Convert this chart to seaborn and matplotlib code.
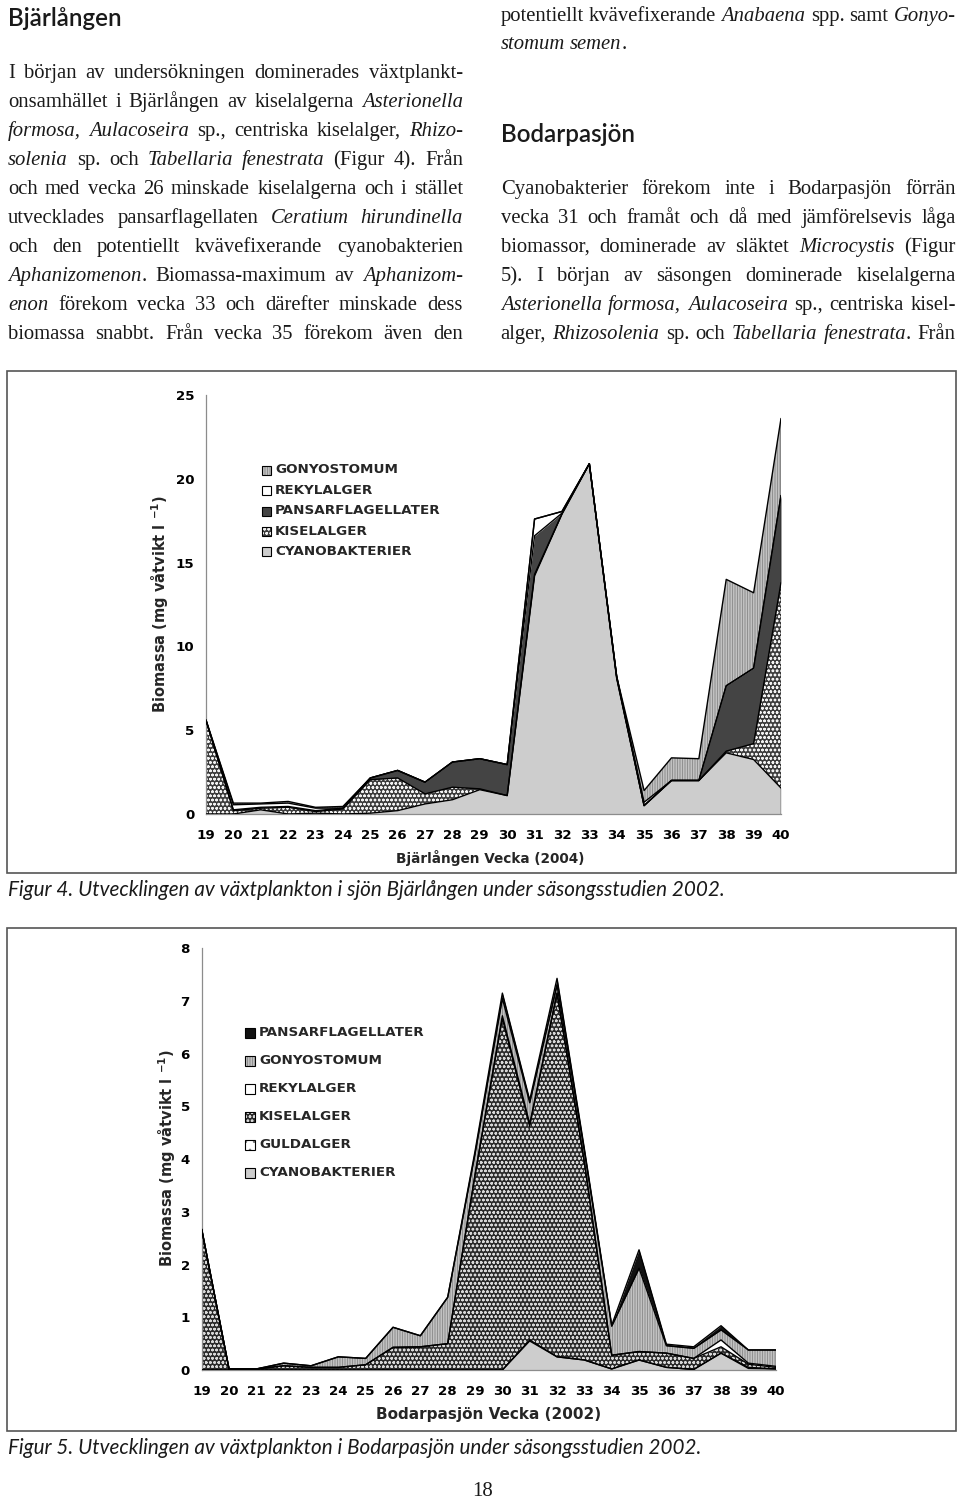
import matplotlib
matplotlib.use("Agg")
import numpy as np
import pandas as pd
import seaborn as sns
import matplotlib.pyplot as plt
from matplotlib.patches import Rectangle

# ---------------- data ----------------
weeks = list(range(19, 41))
week_labels = [str(w) for w in weeks]

# Figur 4 – Bjärlången (stack order bottom -> top)
bj_cyano  = [0, 0, 0.25, 0, 0.05, 0, 0.05, 0.2, 0.6, 0.85, 1.45, 1.1, 14.2, 17.9, 20.9, 8.1, 0.5, 2.0, 2.0, 3.65, 3.25, 1.55]
bj_kisel  = [5.6, 0.2, 0.1, 0.4, 0.1, 0.3, 2.0, 1.95, 0.6, 0.75, 0.05, 0, 0.1, 0, 0, 0, 0, 0, 0, 0.1, 0.95, 12.25]
bj_pansar = [0, 0.05, 0.05, 0.05, 0.05, 0.05, 0.1, 0.45, 0.7, 1.5, 1.8, 1.85, 2.3, 0.05, 0, 0.1, 0, 0, 0, 3.9, 4.5, 5.2]
bj_rekyl  = [0, 0.3, 0.2, 0.2, 0.15, 0, 0, 0, 0, 0, 0, 0, 1.0, 0.1, 0, 0, 0.2, 0, 0, 0, 0, 0]
bj_gony   = [0, 0.1, 0.05, 0.1, 0.05, 0.1, 0, 0, 0, 0, 0, 0, 0, 0, 0, 0, 0.7, 1.35, 1.3, 6.35, 4.5, 4.6]

# Figur 5 – Bodarpasjön (stack order bottom -> top)
bo_cyano  = [0, 0, 0, 0, 0, 0, 0, 0, 0, 0, 0, 0, 0.55, 0.25, 0.19, 0.02, 0.19, 0.05, 0.01, 0.32, 0.03, 0.02]
bo_guld   = [0, 0, 0, 0, 0, 0, 0, 0, 0, 0, 0, 0, 0.02, 0, 0, 0, 0, 0, 0, 0, 0.02, 0]
bo_kisel  = [2.67, 0.02, 0.02, 0.08, 0.05, 0.05, 0.1, 0.43, 0.44, 0.5, 3.7, 6.67, 4.05, 6.9, 3.75, 0.26, 0.16, 0.27, 0.21, 0.12, 0.06, 0.03]
bo_rekyl  = [0, 0, 0, 0, 0, 0, 0, 0, 0, 0, 0, 0.05, 0.05, 0, 0, 0, 0, 0, 0, 0.13, 0.02, 0.02]
bo_gony   = [0, 0, 0, 0.05, 0.03, 0.2, 0.12, 0.38, 0.21, 0.88, 0.4, 0.33, 0.4, 0.15, 0.2, 0.55, 1.58, 0.14, 0.19, 0.19, 0.25, 0.31]
bo_pansar = [0, 0, 0, 0, 0, 0, 0, 0, 0, 0, 0.05, 0.1, 0.05, 0.13, 0.06, 0.02, 0.35, 0.03, 0.03, 0.08, 0, 0]

bj_layers = [("CYANOBAKTERIER", bj_cyano), ("KISELALGER", bj_kisel),
             ("PANSARFLAGELLATER", bj_pansar), ("REKYLALGER", bj_rekyl),
             ("GONYOSTOMUM", bj_gony)]
bo_layers = [("CYANOBAKTERIER", bo_cyano), ("GULDALGER", bo_guld), ("KISELALGER", bo_kisel),
             ("REKYLALGER", bo_rekyl), ("GONYOSTOMUM", bo_gony), ("PANSARFLAGELLATER", bo_pansar)]

bj_legend = ["GONYOSTOMUM", "REKYLALGER", "PANSARFLAGELLATER", "KISELALGER", "CYANOBAKTERIER"]
bo_legend = ["PANSARFLAGELLATER", "GONYOSTOMUM", "REKYLALGER", "KISELALGER", "GULDALGER", "CYANOBAKTERIER"]

bj_yticks = [0, 5, 10, 15, 20, 25]
bo_yticks = [0, 1, 2, 3, 4, 5, 6, 7, 8]

ylabel = r"Biomassa (mg våtvikt l $^{\mathbf{-1}}$)"
bj_xlabel = "Bjärlången Vecka (2004)"
bo_xlabel = "Bodarpasjön Vecka (2002)"
cap4 = "Figur 4. Utvecklingen av växtplankton i sjön Bjärlången under säsongsstudien 2002."
cap5 = "Figur 5. Utvecklingen av växtplankton i Bodarpasjön under säsongsstudien 2002."

left_head = "Bjärlången"
left_lines = [
    "I början av undersökningen dominerades växtplankt-",
    "onsamhället i Bjärlången av kiselalgerna *Asterionella*",
    "*formosa, Aulacoseira* sp., centriska kiselalger, *Rhizo-*",
    "*solenia* sp. och *Tabellaria fenestrata* (Figur 4). Från",
    "och med vecka 26 minskade kiselalgerna och i stället",
    "utvecklades pansarflagellaten *Ceratium hirundinella*",
    "och den potentiellt kvävefixerande cyanobakterien",
    "*Aphanizomenon*. Biomassa-maximum av *Aphanizom-*",
    "*enon* förekom vecka 33 och därefter minskade dess",
    "biomassa snabbt. Från vecka 35 förekom även den",
]
right_top = ["potentiellt kvävefixerande *Anabaena* spp. samt *Gonyo-*", "*stomum semen*."]
right_head = "Bodarpasjön"
right_lines = [
    "Cyanobakterier förekom inte i Bodarpasjön förrän",
    "vecka 31 och framåt och då med jämförelsevis låga",
    "biomassor, dominerade av släktet *Microcystis* (Figur",
    "5). I början av säsongen dominerade kiselalgerna",
    "*Asterionella formosa, Aulacoseira* sp., centriska kisel-",
    "alger, *Rhizosolenia* sp. och *Tabellaria fenestrata*. Från",
]
page_no = "18"

# ---------------- styles ----------------
sns.set_theme(style="white")
plt.rcParams["font.family"] = ["DejaVu Sans"]
plt.rcParams["hatch.linewidth"] = 0.7

styles_top = {
    "CYANOBAKTERIER": dict(fc="#cdcdcd", hatch=None, hc="#cdcdcd"),
    "KISELALGER": dict(fc="#3c3c3c", hatch="oooo", hc="#f2f2f2"),
    "PANSARFLAGELLATER": dict(fc="#444444", hatch=None, hc="#444444"),
    "REKYLALGER": dict(fc="white", hatch=None, hc="white"),
    "GONYOSTOMUM": dict(fc="#d9d9d9", hatch="||||||||||", hc="#8f8f8f"),
    "GULDALGER": dict(fc="white", hatch="..", hc="#777777"),
}
styles_bot = dict(styles_top)
styles_bot["PANSARFLAGELLATER"] = dict(fc="#111111", hatch=None, hc="#111111")
styles_bot["KISELALGER"] = dict(fc="#2a2a2a", hatch="oooo", hc="#d8d8d8")

W, H = 960, 1502
fig = plt.figure(figsize=(W / 100, H / 100), dpi=100)
fig.patch.set_facecolor("white")


def fx(p):
    return p / W


def fy(p):
    return 1 - p / H


def stack_chart(ax, layers, styles, yticks, ymax):
    x = np.array(weeks, dtype=float)
    base = np.zeros(len(x))
    rows = []
    for name, vals in layers:
        top = base + np.array(vals, dtype=float)
        st = styles[name]
        ax.fill_between(x, base, top, facecolor=st["fc"], hatch=st["hatch"],
                        edgecolor=st["hc"], linewidth=0, zorder=2)
        for w, v in zip(weeks, top):
            rows.append(dict(week=w, cum=v, layer=name))
        base = top
    df = pd.DataFrame(rows)
    sns.lineplot(data=df, x="week", y="cum", units="layer", estimator=None,
                 color="black", linewidth=1.0, ax=ax, legend=False, zorder=3)
    ax.vlines(x[-1], 0, base[-1], color="black", linewidth=1.0, zorder=3)
    ax.set_xlim(weeks[0], weeks[-1])
    ax.set_ylim(0, ymax)
    ax.set_xticks(weeks)
    ax.set_xticklabels(week_labels)
    ax.set_yticks(yticks)
    ax.set_yticklabels([str(t) for t in yticks])
    ax.set_xlabel("")
    ax.set_ylabel("")
    for s in ["top", "right"]:
        ax.spines[s].set_visible(False)
    for s in ["left", "bottom"]:
        ax.spines[s].set_color("#8c8c8c")
        ax.spines[s].set_linewidth(0.9)
    ax.tick_params(axis="both", direction="out", length=3.5, width=0.8,
                   color="#8c8c8c", labelsize=9.6, labelcolor="black")
    ax.tick_params(axis="x", pad=7)
    ax.tick_params(axis="y", pad=5)
    for lbl in ax.get_xticklabels() + ax.get_yticklabels():
        lbl.set_fontweight("bold")
    ax.set_facecolor("white")
    ax.grid(False)


ax1 = fig.add_axes([fx(206), fy(814), fx(781) - fx(206), (814 - 395) / H])
stack_chart(ax1, bj_layers, styles_top, bj_yticks, 25)
ax2 = fig.add_axes([fx(201.7), fy(1370), fx(775.7) - fx(201.7), (1370 - 948.3) / H])
stack_chart(ax2, bo_layers, styles_bot, bo_yticks, 8)

# frames
for (x0, y0, x1, y1) in [(7, 371, 956, 873), (7, 927.5, 956, 1431)]:
    fig.add_artist(Rectangle((fx(x0), fy(y1)), fx(x1) - fx(x0), (y1 - y0) / H,
                             transform=fig.transFigure, fill=False,
                             edgecolor="#555555", linewidth=1.2, zorder=0))

# axis labels
fig.text(fx(160), fy(604), ylabel, rotation=90, ha="center", va="center",
         fontsize=10.5, fontweight="bold")
fig.text(fx(167), fy(1158), ylabel, rotation=90, ha="center", va="center",
         fontsize=10.5, fontweight="bold")
fig.text(fx(490), fy(858), bj_xlabel, ha="center", va="center", fontsize=9.8, fontweight="bold")
fig.text(fx(489), fy(1415), bo_xlabel, ha="center", va="center", fontsize=11, fontweight="bold")

# legends
def draw_legend(names, styles, bx, tx, ys, box):
    for name, yc in zip(names, ys):
        st = styles[name]
        r = Rectangle((fx(bx), fy(yc + box / 2)), box / W, box / H, transform=fig.transFigure,
                      facecolor=st["fc"], hatch=st["hatch"], edgecolor=st["hc"], linewidth=0)
        fig.add_artist(r)
        fig.add_artist(Rectangle((fx(bx), fy(yc + box / 2)), box / W, box / H,
                                 transform=fig.transFigure, fill=False,
                                 edgecolor="black", linewidth=0.8))
        fig.text(fx(tx), fy(yc), name, ha="left", va="center", fontsize=9.7, fontweight="bold")


draw_legend(bj_legend, styles_top, 262, 275, [470, 490.5, 511, 531, 551.5], 9)
draw_legend(bo_legend, styles_bot, 245, 259, [1033, 1061, 1089, 1117, 1144.5, 1172.5], 10)

# ---------------- page text ----------------
renderer = fig.canvas.get_renderer()
SERIF = "Liberation Serif"


def measure(s, size, italic, family=SERIF, weight="normal"):
    t = fig.text(0, 0, s, fontsize=size, family=family,
                 style="italic" if italic else "normal", weight=weight)
    w = t.get_window_extent(renderer).width
    t.remove()
    return w


def parse(line):
    words = []
    ital = False
    for tok in line.split(" "):
        parts = []
        for i, p in enumerate(tok.split("*")):
            if i > 0:
                ital = not ital
            if p:
                parts.append((p, ital))
        words.append(parts)
    return words


def natural(line, size):
    words = parse(line)
    ww = sum(measure(p, size, it) for w in words for p, it in w)
    return ww + (len(words) - 1) * 0.22 * size * 100 / 72


def draw_line(line, x0, x1, ybase, size, justify=True):
    words = parse(line)
    widths = [[measure(p, size, it) for p, it in w] for w in words]
    tot = sum(sum(w) for w in widths)
    if justify and len(words) > 1:
        gap = (x1 - x0 - tot) / (len(words) - 1)
    else:
        gap = 0.25 * size * 100 / 72
    x = x0
    for w, ws in zip(words, widths):
        for (p, it), pw in zip(w, ws):
            fig.text(fx(x), fy(ybase), p, fontsize=size, family=SERIF,
                     style="italic" if it else "normal", ha="left", va="baseline",
                     color="#1a1a1a")
            x += pw
        x += gap


colw = 455.0
allj = left_lines + right_lines + right_top[:1]
ratio = max(natural(l, 15.0) for l in allj) / colw
body = min(15.8, 15.0 / ratio)

LX0, LX1 = 8, 463
RX0, RX1 = 500.7, 955.7
for i, l in enumerate(left_lines):
    draw_line(l, LX0, LX1, 72 + 29.0 * i + 6, body, True)
draw_line(right_top[0], RX0, RX1, 15 + 6, body, True)
draw_line(right_top[1], RX0, RX1, 43 + 6, body, False)
for i, l in enumerate(right_lines):
    draw_line(l, RX0, RX1, 188 + 29.0 * i + 6, body, True)

# headings (sans)
HEAD = "Lato"
hs = 16.0 * 114 / measure(left_head, 16.0, False, HEAD, "semibold")
fig.text(fx(8), fy(18), left_head, fontsize=hs, family=HEAD, weight="semibold",
         ha="left", va="center", color="#1a1a1a")
fig.text(fx(500.7), fy(135), right_head, fontsize=hs, family=HEAD, weight="semibold",
         ha="left", va="center", color="#1a1a1a")

# captions
cs = 13.0 * 714 / measure(cap4, 13.0, True, HEAD)
fig.text(fx(8), fy(890), cap4, fontsize=cs, family=HEAD, style="italic",
         ha="left", va="center", color="#1a1a1a")
fig.text(fx(8), fy(1448), cap5, fontsize=cs, family=HEAD, style="italic",
         ha="left", va="center", color="#1a1a1a")

fig.text(fx(483), fy(1491), page_no, fontsize=15, family=SERIF, ha="center", va="center",
         color="#1a1a1a")

fig.savefig("out.png", dpi=100, facecolor="white")
